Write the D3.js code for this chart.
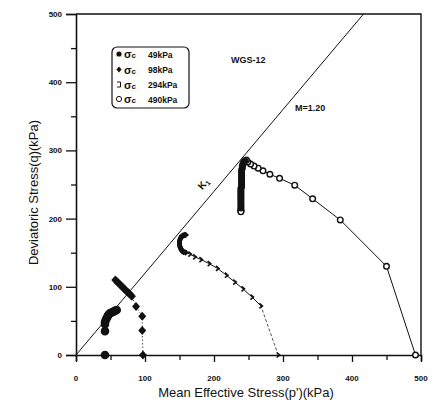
<!DOCTYPE html>
<html>
<head>
<meta charset="utf-8">
<script src="https://cdn.jsdelivr.net/npm/d3@7"></script>
<style>
  body { margin: 0; background: #fff; }
  text { font-family: "Liberation Sans", Arial, sans-serif; fill: #111; }
</style>
</head>
<body>
<svg id="chart" width="443" height="413"></svg>
<script>
// stress paths (p', q in kPa)
const p49 = [42, 42, 42, 42, 43, 44, 45, 46, 47, 49, 51, 53, 55, 57, 59];
const q49 = [0, 35, 45, 48, 51, 53, 55, 57, 59, 61, 62, 63, 64, 65, 66];

const p98 = [97, 96, 96, 87, 81, 79, 77, 75, 73, 71, 69, 67, 65, 63, 61, 59, 57];
const q98 = [0, 36, 57, 71, 86, 88, 90, 92, 94, 96, 98, 100, 102, 104, 106, 108, 110];

const p294 = [293, 268, 255, 242, 230, 218, 205, 193, 181, 172, 165, 160, 157, 155, 153, 152, 151, 150, 150, 150, 151, 152, 154, 156, 158, 160];
const q294 = [0, 72, 85, 97, 107, 117, 127, 134, 140, 144, 148, 150, 151, 152, 154, 156, 158, 161, 164, 167, 170, 172, 174, 175, 176, 176];

const p490 = [492, 450, 383, 343, 317, 295, 281, 271, 264, 258, 253, 249, 247, 245, 243, 242, 241, 241, 240, 240, 240, 240, 240, 240, 240, 240, 240, 239, 239, 239, 239, 239, 239, 239, 239, 239, 239, 239, 239, 239, 239];
const q490 = [0, 130, 198, 229, 249, 259, 265, 270, 274, 277, 280, 283, 286, 285, 283, 280, 277, 274, 271, 268, 265, 262, 259, 256, 253, 250, 247, 244, 241, 238, 235, 232, 229, 226, 223, 220, 217, 214, 212, 211, 210];

const legendLabels = ["49kPa", "98kPa", "294kPa", "490kPa"];
const xTicks = [0, 100, 200, 300, 400, 500];
const yTicks = [0, 100, 200, 300, 400, 500];
const M = 1.20;

const svg = d3.select("#chart");
const x = d3.scaleLinear().domain([0, 500]).range([76, 421]);
const y = d3.scaleLinear().domain([0, 500]).range([355, 14]);

// frame: top and right borders
svg.append("path")
    .attr("d", `M${x(0)},${y(500)}H${x(500)}V${y(0)}`)
    .style("fill", "none").style("stroke", "#111").style("stroke-width", 1.4);

// axes
const xAxis = svg.append("g").attr("transform", `translate(0,${y(0)})`)
    .call(d3.axisBottom(x).tickValues(d3.range(0, 501, 50)).tickSize(6).tickFormat(""));
const yAxis = svg.append("g").attr("transform", `translate(${x(0)},0)`)
    .call(d3.axisLeft(y).tickValues(d3.range(0, 501, 50)).tickSize(10).tickFormat(""));
[xAxis, yAxis].forEach(a => {
    a.select(".domain").style("stroke", "#111").style("stroke-width", 1.6);
    a.selectAll(".tick line").style("stroke", "#111").style("stroke-width", 1.3);
});
yAxis.selectAll(".tick line").attr("x2", d => d % 100 === 0 ? -10 : -5);
xAxis.selectAll(".tick line").attr("y2", d => d % 100 === 0 ? 7 : 5);

svg.selectAll(".xlab").data(xTicks).enter().append("text")
    .attr("x", d => x(d)).attr("y", 381)
    .attr("text-anchor", "middle")
    .style("font-size", "8px").style("font-weight", "bold")
    .text(d => d);
svg.selectAll(".ylab").data(yTicks).enter().append("text")
    .attr("x", 62).attr("y", d => y(d) + 3)
    .attr("text-anchor", "end")
    .style("font-size", "8px").style("font-weight", "bold")
    .text(d => d);

svg.append("text")
    .attr("transform", `translate(38,${(y(0) + y(500)) / 2 + 8}) rotate(-90)`)
    .attr("text-anchor", "middle")
    .style("font-size", "13px")
    .text("Deviatoric Stress(q)(kPa)");
svg.append("text")
    .attr("x", 246).attr("y", 397)
    .attr("text-anchor", "middle")
    .style("font-size", "13px")
    .text("Mean Effective Stress(p')(kPa)");

// critical state line
svg.append("line")
    .attr("x1", x(0)).attr("y1", y(0))
    .attr("x2", x(500 / M)).attr("y2", y(500))
    .style("stroke", "#111").style("stroke-width", 1);

svg.append("text")
    .attr("transform", "translate(206,186) rotate(-49)")
    .attr("text-anchor", "middle")
    .style("font-size", "10px").style("font-weight", "bold")
    .html('K<tspan dy="2" font-size="7">1</tspan>');
svg.append("text").attr("x", 295).attr("y", 111)
    .style("font-size", "9px").style("font-weight", "bold").text("M=1.20");
svg.append("text").attr("x", 231).attr("y", 63)
    .style("font-size", "9px").style("font-weight", "bold").text("WGS-12");

const toPts = (ps, qs) => ps.map((p, i) => ({ p, q: qs[i] }));
const line = d3.line().x(d => x(d.p)).y(d => y(d.q));

const s49 = toPts(p49, q49);
const s98 = toPts(p98, q98);
const s294 = toPts(p294, q294);
const s490 = toPts(p490, q490);

// connecting lines
svg.append("path").datum(s98.slice(0, 5)).attr("d", line)
    .style("fill", "none").style("stroke", "#222").style("stroke-width", 0.8).style("stroke-dasharray", "1.5,2");
svg.append("path").datum(s294.slice(0, 2)).attr("d", line)
    .style("fill", "none").style("stroke", "#222").style("stroke-width", 0.8).style("stroke-dasharray", "3,2");
svg.append("path").datum(s294.slice(1)).attr("d", line)
    .style("fill", "none").style("stroke", "#111").style("stroke-width", 1);
svg.append("path").datum(s490).attr("d", line)
    .style("fill", "none").style("stroke", "#111").style("stroke-width", 1);

// markers
const diamond = "M0,-4.5L4,0L0,4.5L-4,0Z";
const hook = "M-1.5,-2.5L1.5,0L-1.5,2.5";

function drawCircles(data, filled) {
    svg.append("g").selectAll("circle").data(data).enter().append("circle")
        .attr("cx", d => x(d.p)).attr("cy", d => y(d.q)).attr("r", filled ? 3.6 : 2.8)
        .style("fill", filled ? "#111" : "#fff")
        .style("stroke", "#111").style("stroke-width", 1.4);
}
drawCircles(s49, true);
svg.append("g").selectAll("path").data(s98).enter().append("path")
    .attr("d", diamond).attr("transform", d => `translate(${x(d.p)},${y(d.q)})`)
    .style("fill", "#111");
svg.append("g").selectAll("path").data(s294).enter().append("path")
    .attr("d", hook).attr("transform", d => `translate(${x(d.p)},${y(d.q)})`)
    .style("fill", "none").style("stroke", "#111").style("stroke-width", 1.6);
// blob of the 294 kPa path where the markers pile up
svg.append("path").datum(s294.slice(11)).attr("d", line)
    .style("fill", "none").style("stroke", "#111").style("stroke-width", 5).style("stroke-linejoin", "round");
drawCircles(s490, false);
// 490 kPa markers pile up into a solid bar below the peak
svg.append("path").datum(s490.slice(13, 38)).attr("d", line)
    .style("fill", "none").style("stroke", "#111").style("stroke-width", 5).style("stroke-linecap", "round");

// legend
const lg = svg.append("g");
lg.append("rect").attr("x", 112).attr("y", 47).attr("width", 77).attr("height", 61).attr("rx", 5)
    .style("fill", "#fff").style("stroke", "#111").style("stroke-width", 1.2);
const rowY = [54, 69.5, 84.5, 99];
legendLabels.forEach((lab, i) => {
    const cy = rowY[i];
    if (i === 0) lg.append("circle").attr("cx", 119).attr("cy", cy).attr("r", 2.6).style("fill", "#111");
    if (i === 1) lg.append("path").attr("d", "M0,-3L2.6,0L0,3L-2.6,0Z").attr("transform", `translate(119,${cy})`).style("fill", "#111");
    if (i === 2) lg.append("path").attr("d", "M-2,-2.5L1.5,-2.5L1.5,2.5L-2,2.5").attr("transform", `translate(119,${cy})`)
        .style("fill", "none").style("stroke", "#111").style("stroke-width", 1);
    if (i === 3) lg.append("circle").attr("cx", 119).attr("cy", cy).attr("r", 2.6)
        .style("fill", "#fff").style("stroke", "#111").style("stroke-width", 1);
    lg.append("text").attr("x", 124).attr("y", cy + 4)
        .style("font-size", "11px").style("font-weight", "bold")
        .html('σ<tspan font-size="8" dy="0">c</tspan>');
    lg.append("text").attr("x", 148).attr("y", cy + 3.5)
        .style("font-size", "8.5px").style("font-weight", "bold").text(lab);
});
</script>
</body>
</html>
